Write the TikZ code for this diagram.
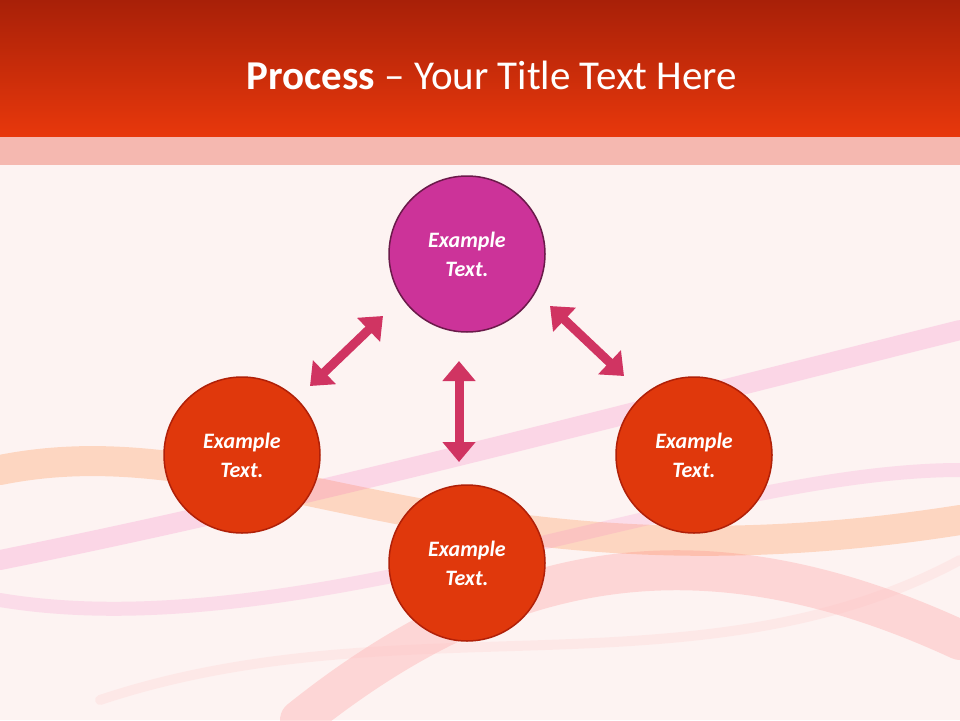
\documentclass[tikz,border=0pt]{standalone}
\usepackage{fontspec}
\setmainfont{Carlito}
\usetikzlibrary{arrows.meta}
\definecolor{bg}{HTML}{FDF3F2}
\definecolor{topred}{HTML}{A82008}
\definecolor{botred}{HTML}{E8380C}
\definecolor{band}{HTML}{F5B8B0}
\definecolor{mag}{HTML}{CC3399}
\definecolor{magb}{HTML}{6B1A4A}
\definecolor{ored}{HTML}{E0380C}
\definecolor{oredb}{HTML}{B02008}
\definecolor{arr}{HTML}{D03462}
\tikzset{
 circ/.style={circle,minimum size=156pt,inner sep=0pt,line width=1.5pt,text=white,font=\fontsize{22}{29}\selectfont\bfseries\itshape,align=center},
 dbl/.style={arr,line width=9pt,{Triangle[length=20pt,width=32pt]}-{Triangle[length=20pt,width=32pt]}},
 wave/.style={line width=#1,opacity=0.2,line cap=round}
}
\begin{document}
\begin{tikzpicture}[x=1pt,y=-1pt]
\useasboundingbox (0,0) rectangle (960,720);
\fill[bg] (0,0) rectangle (960,720);
\shade[top color=topred,bottom color=botred] (0,0) rectangle (960,137);
\fill[band] (0,137) rectangle (960,165);
% background swirls
\draw[wave=30pt,color=orange!80!red] (0,470) .. controls (250,420) and (450,600) .. (960,520);
\draw[wave=20pt,color=magenta!60] (0,560) .. controls (300,500) and (600,420) .. (960,330);
\draw[wave=40pt,color=red!60] (300,720) .. controls (500,560) and (700,520) .. (960,640);
\draw[wave=14pt,color=magenta!50] (0,600) .. controls (300,650) and (700,470) .. (960,470);
\draw[wave=10pt,color=pink] (100,700) .. controls (400,600) and (700,700) .. (960,560);
\node[font=\fontsize{41}{48}\selectfont,text=white] (title) at (492,75) {\textbf{Process} – Your Title Text Here};
\node[circ,fill=mag,draw=magb] (top) at (467,254) {Example\\Text.};
\node[circ,fill=ored,draw=oredb] (left) at (242,455) {Example\\Text.};
\node[circ,fill=ored,draw=oredb] (right) at (694,455) {Example\\Text.};
\node[circ,fill=ored,draw=oredb] (bot) at (467,563) {Example\\Text.};
\coordinate (a1) at (310,386); \coordinate (a2) at (383,316);
\coordinate (b1) at (550,306); \coordinate (b2) at (624,376);
\coordinate (c1) at (459,361); \coordinate (c2) at (459,462);
\draw[dbl] (a1) -- (a2);
\draw[dbl] (b1) -- (b2);
\draw[dbl] (c1) -- (c2);
\end{tikzpicture}
\end{document}
